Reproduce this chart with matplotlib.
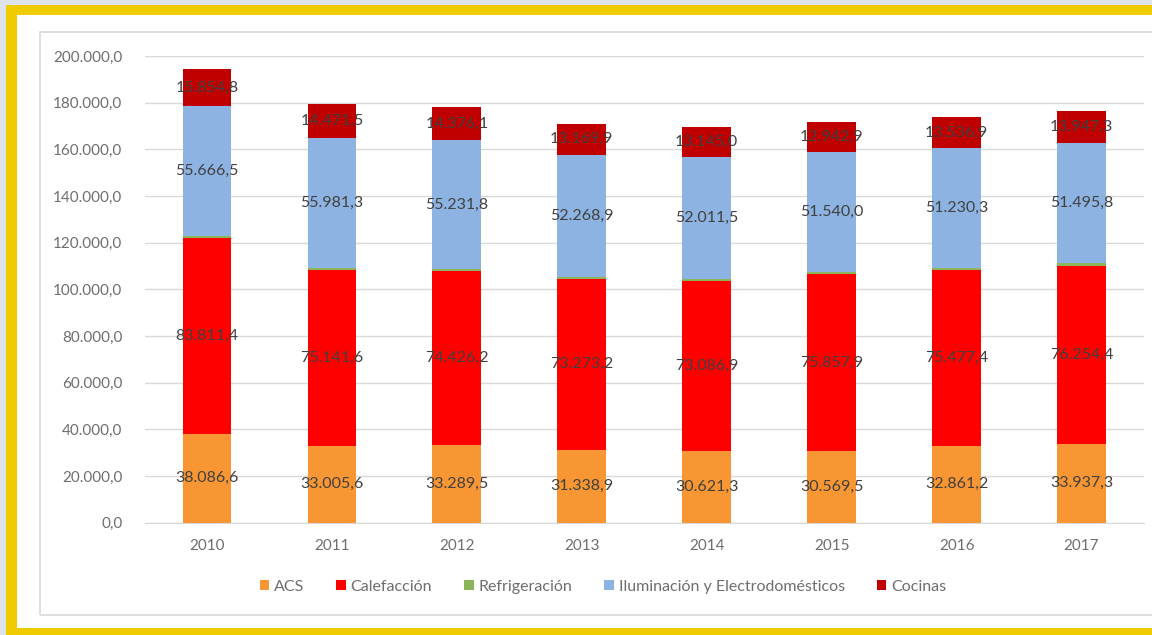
import matplotlib
matplotlib.use("Agg")
import matplotlib.pyplot as plt
from matplotlib.patches import Rectangle
import numpy as np

years = ["2010", "2011", "2012", "2013", "2014", "2015", "2016", "2017"]
acs = [38086.6, 33005.6, 33289.5, 31338.9, 30621.3, 30569.5, 32861.2, 33937.3]
calefaccion = [83811.4, 75141.6, 74426.2, 73273.2, 73086.9, 75857.9, 75477.4, 76254.4]
refrigeracion = [1000.0, 900.0, 900.0, 850.0, 850.0, 850.0, 850.0, 900.0]
iluminacion = [55666.5, 55981.3, 55231.8, 52268.9, 52011.5, 51540.0, 51230.3, 51495.8]
cocinas = [15854.8, 14471.5, 14376.1, 13169.9, 13145.0, 12942.9, 13536.9, 13947.3]

series_names = ["ACS", "Calefacción", "Refrigeración",
                "Iluminación y Electrodomésticos", "Cocinas"]
series_values = [acs, calefaccion, refrigeracion, iluminacion, cocinas]
series_colors = ["#F79632", "#FF0000", "#8CB45A", "#8DB3E2", "#C00000"]
labelled = [True, True, False, True, True]

yticks = np.arange(0, 200001, 20000)

plt.rcParams["font.family"] = ["Lato", "DejaVu Sans"]


def es_fmt(v):
    s = f"{v:,.1f}"
    return s.replace(",", "X").replace(".", ",").replace("X", ".")


W, H = 1152, 635
fig = plt.figure(figsize=(W / 100, H / 100), dpi=100)
fig.patch.set_facecolor("#DCE3EA")

# yellow frame and white panel
fig.patches.append(Rectangle((6 / W, 0), 1, 1 - 5 / H, transform=fig.transFigure,
                             facecolor="#EFCB00", edgecolor="none", zorder=0))
fig.patches.append(Rectangle((17 / W, 7 / H), 1, 1 - 15 / H - 7 / H,
                             transform=fig.transFigure,
                             facecolor="white", edgecolor="none", zorder=0))
# light chart-area border
fig.patches.append(Rectangle((40 / W, (H - 615) / H), (W - 40 + 20) / W, (615 - 32) / H,
                             transform=fig.transFigure, facecolor="none",
                             edgecolor="#D9D9D9", linewidth=1.2, zorder=1))

ax_left, ax_right = 144.5, 1144
ax_top, ax_bottom = 56, 522.7
ax = fig.add_axes([ax_left / W, (H - ax_bottom) / H,
                   (ax_right - ax_left) / W, (ax_bottom - ax_top) / H])
ax.set_facecolor("none")
ax.set_zorder(3)

x = np.arange(len(years))
width = 0.39
bottom = np.zeros(len(years))
handles = []
for name, vals, col, lab in zip(series_names, series_values, series_colors, labelled):
    vals = np.array(vals)
    bars = ax.bar(x, vals, width, bottom=bottom, color=col, label=name, zorder=3)
    handles.append(bars)
    if lab:
        for xi, b, v in zip(x, bottom, vals):
            ax.text(xi, b + v / 2, es_fmt(v), ha="center", va="center",
                    fontsize=11.5, color="#404040", zorder=4)
    bottom = bottom + vals

ax.set_xlim(-0.5, len(years) - 0.5)
ax.set_ylim(0, 200000)
ax.set_yticks(yticks)
ax.set_yticklabels([es_fmt(v) for v in yticks])
ax.set_xticks(x)
ax.set_xticklabels(years)
ax.tick_params(axis="both", length=0, labelsize=11, labelcolor="#6E6E6E")
ax.tick_params(axis="y", pad=16)
ax.tick_params(axis="x", pad=12)
ax.grid(axis="y", color="#D9D9D9", linewidth=1, zorder=0)
for side in ["top", "right", "left"]:
    ax.spines[side].set_visible(False)
ax.spines["bottom"].set_color("#D9D9D9")

leg = fig.legend(handles=handles, labels=series_names, loc="center",
                 bbox_to_anchor=(603 / W, (H - 587) / H), ncol=5, frameon=False,
                 fontsize=11.5, handlelength=0.6, handleheight=0.6,
                 handletextpad=0.3, columnspacing=2.0)
leg.set_zorder(4)
for t in leg.get_texts():
    t.set_color("#6E6E6E")

fig.savefig("out.png", dpi=100, facecolor=fig.get_facecolor())
